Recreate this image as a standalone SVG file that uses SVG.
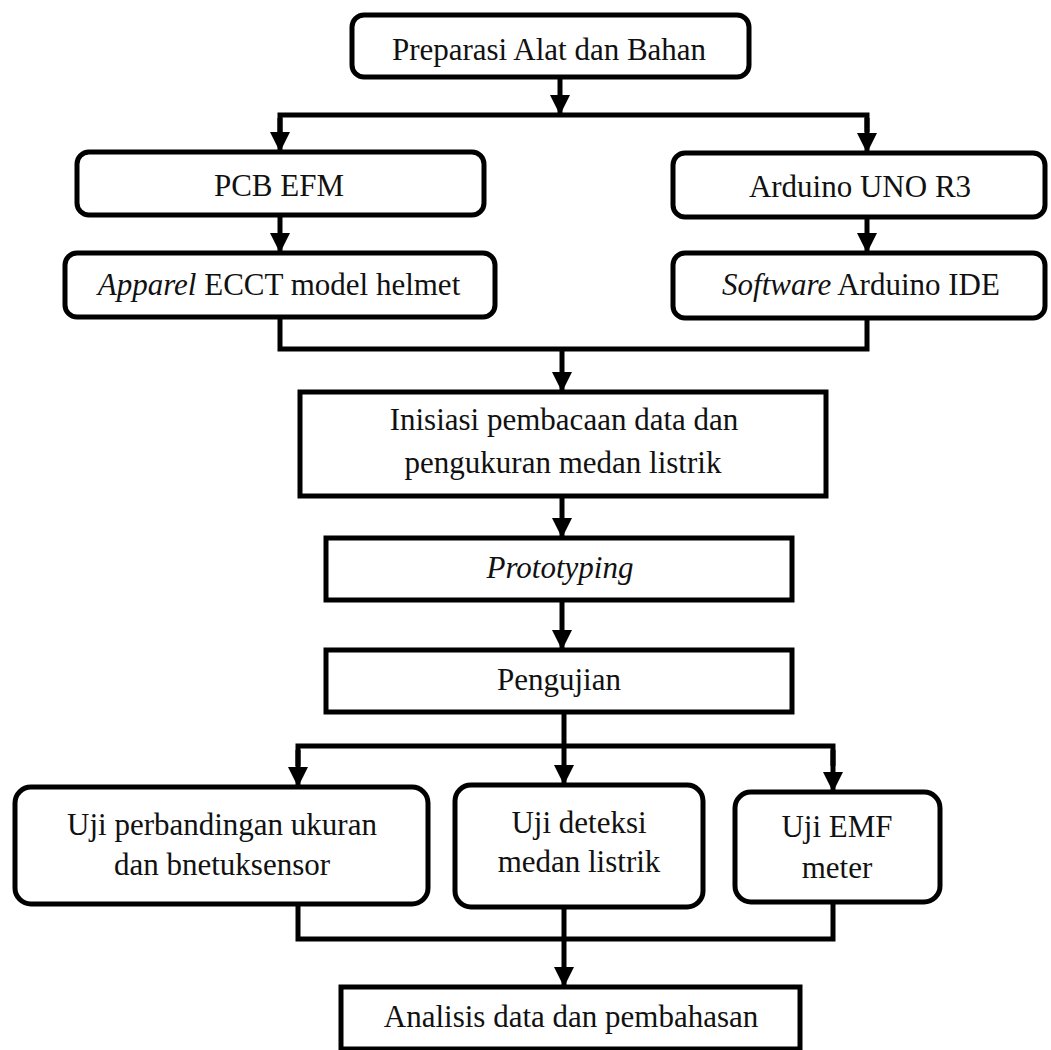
<svg xmlns="http://www.w3.org/2000/svg" width="1051" height="1050" viewBox="0 0 1051 1050">
<defs>
<style>
.box{fill:#fff;stroke:#000;stroke-width:5}
.t{font-family:"Liberation Serif","Times New Roman",serif;font-size:31px;fill:#111;text-anchor:middle}
.i{font-style:italic}
.c{fill:none;stroke:#000;stroke-width:5;stroke-linejoin:miter}
</style>
<marker id="ah" markerWidth="22" markerHeight="22" refX="19" refY="10" orient="auto" markerUnits="userSpaceOnUse" viewBox="0 0 22 22">
<path d="M0,0 L20,10 L0,20 Z" fill="#000"/>
</marker>
</defs>
<rect width="1051" height="1050" fill="#fff"/>
<g id="connectors">
<line class="c" x1="560" y1="77" x2="560" y2="114" marker-end="url(#ah)"/>
<polyline class="c" points="280,132 280,115 867,115 867,132" />
<line class="c" x1="280" y1="118" x2="280" y2="151" marker-end="url(#ah)"/>
<line class="c" x1="867" y1="118" x2="867" y2="152" marker-end="url(#ah)"/>
<line class="c" x1="280" y1="215" x2="280" y2="252" marker-end="url(#ah)"/>
<line class="c" x1="867" y1="217" x2="867" y2="252" marker-end="url(#ah)"/>
<polyline class="c" points="280,317 280,349 867,349 867,318"/>
<line class="c" x1="562" y1="349" x2="562" y2="391" marker-end="url(#ah)"/>
<line class="c" x1="562" y1="496" x2="562" y2="537" marker-end="url(#ah)"/>
<line class="c" x1="562" y1="600" x2="562" y2="649" marker-end="url(#ah)"/>
<line class="c" x1="564" y1="712" x2="564" y2="746"/>
<polyline class="c" points="298,766 298,746 833,746 833,766"/>
<line class="c" x1="298" y1="750" x2="298" y2="786" marker-end="url(#ah)"/>
<line class="c" x1="564" y1="746" x2="564" y2="784" marker-end="url(#ah)"/>
<line class="c" x1="833" y1="750" x2="833" y2="791" marker-end="url(#ah)"/>
<polyline class="c" points="298,904 298,939 833,939 833,902"/>
<line class="c" x1="564" y1="907" x2="564" y2="939"/>
<line class="c" x1="564" y1="939" x2="564" y2="986" marker-end="url(#ah)"/>
</g>
<g id="n1">
<rect class="box" x="352" y="15" width="397" height="62" rx="12"/>
<text class="t" x="549" y="60">Preparasi Alat dan Bahan</text>
</g>
<g id="n2">
<rect class="box" x="77" y="152" width="407" height="63" rx="12"/>
<text class="t" x="279" y="196">PCB EFM</text>
</g>
<g id="n3">
<rect class="box" x="65" y="253" width="430" height="64" rx="12"/>
<text class="t" x="279" y="295"><tspan class="i">Apparel</tspan> ECCT model helmet</text>
</g>
<g id="n4">
<rect class="box" x="673" y="153" width="372" height="64" rx="12"/>
<text class="t" x="860" y="197">Arduino UNO R3</text>
</g>
<g id="n5">
<rect class="box" x="673" y="253" width="372" height="65" rx="12"/>
<text class="t" x="861" y="295"><tspan class="i">Software</tspan> Arduino IDE</text>
</g>
<g id="n6">
<rect class="box" x="300" y="392" width="526" height="104"/>
<text class="t" x="564" y="430">Inisiasi pembacaan data dan</text>
<text class="t" x="563" y="473">pengukuran medan listrik</text>
</g>
<g id="n7">
<rect class="box" x="326" y="538" width="466" height="62"/>
<text class="t i" x="560" y="578">Prototyping</text>
</g>
<g id="n8">
<rect class="box" x="326" y="650" width="466" height="62"/>
<text class="t" x="559" y="690">Pengujian</text>
</g>
<g id="n9">
<rect class="box" x="15" y="787" width="413" height="117" rx="16"/>
<text class="t" x="222" y="835">Uji perbandingan ukuran</text>
<text class="t" x="222" y="875">dan bnetuksensor</text>
</g>
<g id="n10">
<rect class="box" x="455" y="785" width="248" height="122" rx="16"/>
<text class="t" x="579" y="833">Uji deteksi</text>
<text class="t" x="579" y="872">medan listrik</text>
</g>
<g id="n11">
<rect class="box" x="735" y="792" width="205" height="110" rx="16"/>
<text class="t" x="837" y="837">Uji EMF</text>
<text class="t" x="837" y="878">meter</text>
</g>
<g id="n12">
<rect class="box" x="341" y="987" width="459" height="62"/>
<text class="t" x="571" y="1027">Analisis data dan pembahasan</text>
</g>
</svg>
